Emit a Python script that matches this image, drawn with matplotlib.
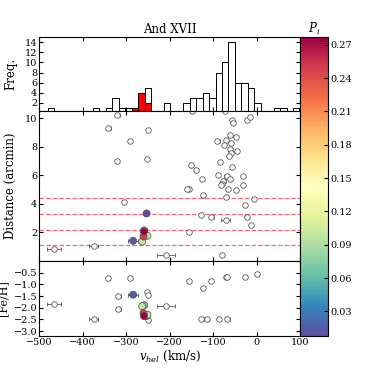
import numpy as np
import matplotlib
matplotlib.use('Agg')
import matplotlib.pyplot as plt
from matplotlib.colors import Normalize
from matplotlib.cm import ScalarMappable

plt.rcParams['font.family'] = ['DejaVu Serif']
plt.rcParams['mathtext.fontset'] = 'dejavuserif'
plt.rcParams['font.size'] = 8
plt.rcParams['xtick.direction'] = 'in'
plt.rcParams['ytick.direction'] = 'in'
plt.rcParams['xtick.top'] = True
plt.rcParams['ytick.right'] = True

# velocity histogram (40 bins)
bin_edges = np.linspace(-480.4, 113.6, 41)
hist_counts = [1, 0, 0, 0, 0, 0, 0, 1, 0, 1, 3, 1, 1, 1, 4, 5, 0, 0, 2, 0,
               0, 2, 3, 3, 4, 3, 8, 10, 14, 6, 6, 5, 2, 0, 0, 1, 1, 0, 1, 0]

# non-members, distance panel
nm_v = [-467, -375, -341, -320, -320, -306, -292, -250, -251, -208, -155, -155,
        -151, -139, -128, -149, -72, -56, -54, -22, -14, -61, -48, -90, -70, -58,
        -75, -61, -45, -59, -64, -83, -56, -125, -89, -69, -60, -30, -76, -80,
        -82, -65, -48, -30, -159, -123, -70, -6, -27, -104, -71, -23, -12, -80]
nm_d = [0.86, 1.02, 9.33, 10.2, 7.02, 4.15, 8.4, 9.2, 7.16, 0.39, 5.06, 2.03,
        6.69, 6.34, 3.22, 10.5, 10.5, 9.89, 9.7, 9.89, 10.1, 8.84, 8.72, 8.42, 8.49, 8.3,
        8.14, 7.84, 7.72, 7.56, 7.37, 6.93, 6.58, 5.74, 6.04, 5.92, 5.74, 5.92, 5.57, 5.41,
        5.32, 5.04, 4.99, 5.34, 5.06, 4.64, 4.45, 4.36, 3.92, 3.1, 2.87, 3.1, 2.54, 0.39]
nm_verr = [16, 11, 5, 5, 4, 4, 4, 5, 4, 20, 5, 5,
           4, 4, 4, 5, 5, 4, 4, 4, 4, 4, 4, 5, 5, 4,
           5, 4, 4, 4, 4, 4, 4, 5, 4, 5, 4, 4, 5, 5,
           4, 5, 4, 4, 5, 5, 4, 5, 4, 6, 11, 4, 4, 5]

# non-members, metallicity panel
nmf_v = [-467, -375, -341, -292, -318, -318, -251, -250, -250, -208, -156, -123,
         -104, -71, -67, -26, 0, -128, -115, -86, -67]
nmf_fe = [-1.85, -2.47, -0.71, -0.71, -1.5, -2.04, -1.33, -1.44, -2.51, -1.92, -0.85, -1.15,
          -0.85, -0.68, -0.68, -0.68, -0.55, -2.47, -2.47, -2.47, -2.47]
nmf_verr = [16, 11, 4, 4, 5, 5, 4, 4, 4, 20, 5, 4,
            5, 4, 4, 4, 4, 5, 5, 5, 5]

# members
mem_v = [-284, -253, -258.5, -263, -251, -260, -259]
mem_d = [1.42, 3.33, 2.15, 1.37, 1.77, 1.72, 2.07]
mem_fe = [-1.44, -2.35, -1.89, -1.93, -2.3, -2.23, -2.35]
mem_verr = [11, 4, 4, 4, 4, 4, 4]
mem_p = [0.015, 0.008, 0.07, 0.10, 0.10, 0.25, 0.277]

rh_lines = [1.1, 2.2, 3.3, 4.4]

cmap = plt.get_cmap('Spectral_r')
norm = Normalize(vmin=min(mem_p), vmax=max(mem_p))

fig = plt.figure(figsize=(3.74, 3.74), dpi=100)
L, W = 0.105, 0.697
ax1 = fig.add_axes([L, 0.703, W, 0.198])
ax2 = fig.add_axes([L, 0.302, W, 0.401])
ax3 = fig.add_axes([L, 0.102, W, 0.200])
cax = fig.add_axes([0.802, 0.102, 0.075, 0.799])

centers = 0.5 * (bin_edges[:-1] + bin_edges[1:])
ax1.hist(centers, bins=bin_edges, weights=hist_counts, facecolor='white',
         edgecolor='black', linewidth=0.7)
ax1.hist(mem_v, bins=bin_edges, facecolor='red', edgecolor='black', linewidth=0.7)
ax1.set_xlim(-500, 100)
ax1.set_ylim(0.4, 15)
ax1.set_yticks(range(2, 15, 2))
ax1.set_xticks(range(-500, 101, 100))
ax1.set_xticklabels([])
ax1.set_ylabel('Freq.', fontsize=8.5)
ax1.set_title('And XVII', fontsize=8.5, pad=3)

grey = '0.35'
ebar = dict(ecolor=grey, elinewidth=0.6, capsize=1.5, capthick=0.6)
ax2.errorbar(nm_v, nm_d, xerr=nm_verr, fmt='o', ms=4, mfc='white', mec=grey,
             mew=0.6, **ebar)
for y in rh_lines:
    ax2.axhline(y, color='red', ls='--', lw=0.9, alpha=0.6)
ax2.errorbar(mem_v, mem_d, xerr=mem_verr, fmt='none', **ebar)
ax2.scatter(mem_v, mem_d, c=mem_p, cmap=cmap, norm=norm, s=26,
            edgecolors='0.3', linewidths=0.5, zorder=5)
ax2.set_xlim(-500, 100)
ax2.set_ylim(0, 10.5)
ax2.set_yticks([2, 4, 6, 8, 10])
ax2.set_xticks(range(-500, 101, 100))
ax2.set_xticklabels([])
ax2.set_ylabel('Distance (arcmin)', fontsize=8.5)

ax3.errorbar(nmf_v, nmf_fe, xerr=nmf_verr, fmt='o', ms=4, mfc='white', mec=grey,
             mew=0.6, **ebar)
ax3.errorbar(mem_v, mem_fe, xerr=mem_verr, fmt='none', **ebar)
ax3.scatter(mem_v, mem_fe, c=mem_p, cmap=cmap, norm=norm, s=26,
            edgecolors='0.3', linewidths=0.5, zorder=5)
ax3.set_xlim(-500, 100)
ax3.set_ylim(-3.2, 0)
ax3.set_yticks([-0.5, -1.0, -1.5, -2.0, -2.5, -3.0])
ax3.set_xticks(range(-500, 101, 100))
ax3.set_ylabel('[Fe/H]', fontsize=8)
ax3.set_xlabel(r'$v_{hel}$ (km/s)', fontsize=8.5, labelpad=1)

for ax in (ax1, ax2, ax3):
    ax.tick_params(labelsize=7, length=3, pad=1.5)
ax1.yaxis.set_label_coords(-0.085, 0.5)
ax2.yaxis.set_label_coords(-0.085, 0.5)
ax3.yaxis.set_label_coords(-0.118, 0.5)

cb = fig.colorbar(ScalarMappable(norm=norm, cmap=cmap), cax=cax)
cb.set_ticks([0.03, 0.06, 0.09, 0.12, 0.15, 0.18, 0.21, 0.24, 0.27])
cb.ax.tick_params(labelsize=7, direction='in', length=3, pad=2)
cb.outline.set_linewidth(0.8)
cax.set_title(r'$P_i$', fontsize=8.5, pad=1)

fig.savefig('out.png', dpi=100)
